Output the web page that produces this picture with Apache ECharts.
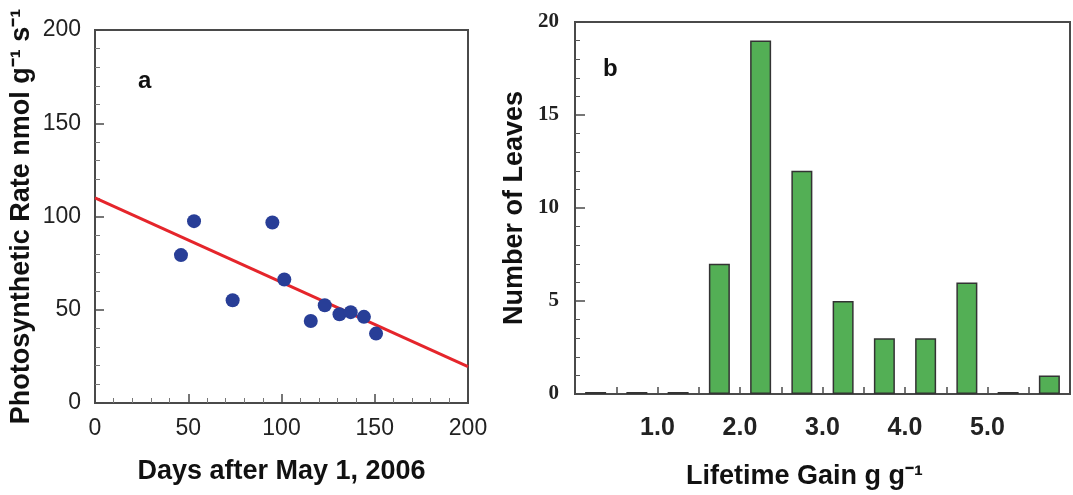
<!DOCTYPE html>
<html>
<head>
<meta charset="utf-8">
<script src="https://cdn.jsdelivr.net/npm/echarts@6/dist/echarts.min.js"></script>
<style>html,body{margin:0;padding:0;background:#fff;}#c{width:1073px;height:495px;}</style>
</head>
<body>
<div id="c"></div>
<script>
// Panel a: photosynthetic rate vs days
const days = [46.1, 53.1, 73.8, 95.1, 101.5, 115.7, 123.2, 131.1, 137.1, 144.2, 150.7];
const rates = [79.3, 97.5, 55.1, 96.8, 66.2, 44.0, 52.4, 47.6, 48.7, 46.2, 37.2];
const fitDays = [0, 200];
const fitRates = [110, 19.5];
// Panel b: histogram of lifetime gain (bins 0.5 wide)
const binCenters = [0.25, 0.75, 1.25, 1.75, 2.25, 2.75, 3.25, 3.75, 4.25, 4.75, 5.25, 5.75];
const leafCounts = [0, 0, 0, 7, 19, 12, 5, 3, 3, 6, 0, 1];
const gainTickLabels = [1, 2, 3, 4, 5];

const axisCol = '#4a4a4a';
const chart = echarts.init(document.getElementById('c'));
const sans = '"Liberation Sans", Arial, Helvetica, sans-serif';
const serif = '"Liberation Serif", "Times New Roman", serif';

chart.setOption({
  animation: false,
  backgroundColor: '#fff',
  grid: [
    {left: 95, right: 605, top: 30, bottom: 92, show: true, borderColor: axisCol, borderWidth: 2},
    {left: 575, right: 2, top: 22, bottom: 101, show: true, borderColor: axisCol, borderWidth: 2}
  ],
  graphic: [
    {type: 'text', x: 138, y: 81, style: {text: 'a', font: 'bold 24px ' + sans, fill: '#111', textVerticalAlign: 'middle'}},
    {type: 'text', x: 603, y: 69, style: {text: 'b', font: 'bold 24px ' + sans, fill: '#111', textVerticalAlign: 'middle'}}
  ],
  xAxis: [
    {
      type: 'value', gridIndex: 0, min: 0, max: 200, interval: 50,
      name: 'Days after May 1, 2006', nameLocation: 'middle', nameGap: 55,
      nameTextStyle: {fontFamily: sans, fontWeight: 'bold', fontSize: 27, color: '#111'},
      axisLine: {show: true, lineStyle: {color: axisCol, width: 2}},
      axisTick: {show: true, inside: true, length: 9, lineStyle: {color: axisCol, width: 1.5}},
      minorTick: {show: true, splitNumber: 5, length: 5, lineStyle: {color: '#777', width: 1}},
      axisLabel: {fontFamily: sans, fontSize: 23, color: '#222', margin: 14},
      splitLine: {show: false}
    },
    {
      type: 'value', gridIndex: 1, min: 0, max: 6, interval: 0.5,
      name: 'Lifetime Gain g g\u207B\u00B9', nameLocation: 'middle', nameGap: 69,
      nameTextStyle: {fontFamily: sans, fontWeight: 'bold', fontSize: 27, color: '#111', padding: [0, 36, 0, 0]},
      axisLine: {show: true, lineStyle: {color: axisCol, width: 2}},
      axisTick: {show: true, inside: true, length: 7, lineStyle: {color: axisCol, width: 1.5}},
      axisLabel: {
        fontFamily: sans, fontWeight: 'bold', fontSize: 25, color: '#222', margin: 22,
        formatter: function (v) {
          return gainTickLabels.indexOf(Math.round(v * 10) / 10) >= 0 ? v.toFixed(1) : '';
        }
      },
      splitLine: {show: false}
    }
  ],
  yAxis: [
    {
      type: 'value', gridIndex: 0, min: 0, max: 200, interval: 50,
      name: 'Photosynthetic Rate nmol g\u207B\u00B9 s\u207B\u00B9', nameLocation: 'middle', nameGap: 60,
      nameTextStyle: {fontFamily: sans, fontWeight: 'bold', fontSize: 27, color: '#111'},
      axisLine: {show: true, lineStyle: {color: axisCol, width: 2}},
      axisTick: {show: true, inside: true, length: 9, lineStyle: {color: axisCol, width: 1.5}},
      minorTick: {show: true, splitNumber: 5, length: 5, lineStyle: {color: '#777', width: 1}},
      axisLabel: {fontFamily: sans, fontSize: 23, color: '#222', margin: 14},
      splitLine: {show: false}
    },
    {
      type: 'value', gridIndex: 1, min: 0, max: 20, interval: 5,
      name: 'Number of Leaves', nameLocation: 'middle', nameGap: 47,
      nameTextStyle: {fontFamily: sans, fontWeight: 'bold', fontSize: 27, color: '#111'},
      axisLine: {show: true, lineStyle: {color: axisCol, width: 2}},
      axisTick: {show: true, inside: true, length: 10, lineStyle: {color: axisCol, width: 1.5}},
      minorTick: {show: true, splitNumber: 5, length: 5, lineStyle: {color: '#555', width: 1}},
      axisLabel: {fontFamily: serif, fontWeight: 'bold', fontSize: 21, color: '#222', margin: 16},
      splitLine: {show: false}
    }
  ],
  series: [
    {
      type: 'line', xAxisIndex: 0, yAxisIndex: 0,
      data: fitDays.map((d, i) => [d, fitRates[i]]),
      symbol: 'none', lineStyle: {color: '#E5252B', width: 3}, z: 2
    },
    {
      type: 'scatter', xAxisIndex: 0, yAxisIndex: 0,
      data: days.map((d, i) => [d, rates[i]]),
      symbolSize: 14, itemStyle: {color: '#283E97', opacity: 1}, z: 3
    },
    {
      type: 'bar', xAxisIndex: 1, yAxisIndex: 1,
      data: binCenters.map((c, i) => [c, leafCounts[i]]),
      barWidth: 21, barMinHeight: 2,
      itemStyle: {color: '#53AF55', borderColor: '#333', borderWidth: 1.5}
    }
  ]
});
</script>
</body>
</html>
